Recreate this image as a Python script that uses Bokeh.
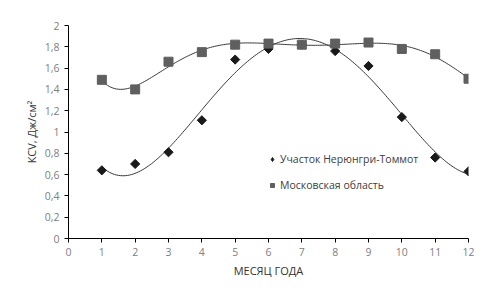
import numpy as np
from bokeh.plotting import figure
from bokeh.models import Legend, LegendItem, Range1d, FixedTicker
from bokeh.embed import file_html
from bokeh.resources import INLINE

months = [1, 2, 3, 4, 5, 6, 7, 8, 9, 10, 11, 12]
neryungri = [0.64, 0.70, 0.81, 1.11, 1.68, 1.78, 1.82, 1.76, 1.62, 1.14, 0.76, 0.63]
moscow = [1.49, 1.40, 1.66, 1.75, 1.82, 1.83, 1.82, 1.83, 1.84, 1.78, 1.73, 1.50]
name1 = "Участок Нерюнгри-Томмот"
name2 = "Московская область"
y_ticks = [0, 0.2, 0.4, 0.6, 0.8, 1.0, 1.2, 1.4, 1.6, 1.8, 2.0]
x_ticks = list(range(0, 13))

p = figure(width=474, height=280, output_backend="svg", toolbar_location=None,
           x_range=Range1d(0, 12), y_range=Range1d(0, 2),
           min_border_left=68, min_border_right=6, min_border_top=25, min_border_bottom=38)
p.outline_line_color = None
p.xgrid.visible = False
p.ygrid.visible = False

# polynomial trend lines
xs = np.linspace(1, 12, 200)
for series, deg in ((neryungri, 4), (moscow, 6)):
    c = np.polyfit(months, series, deg)
    p.line(xs, np.polyval(c, xs), line_color="#3a3a3a", line_width=1)

r1 = p.scatter(months, neryungri, marker="square", angle=np.pi / 4, size=6.5,
               fill_color="#1a1a1a", line_color="#1a1a1a")
r2 = p.scatter(months, moscow, marker="square", size=9, fill_color="#5f5f5f", line_color="#5f5f5f")
# hidden proxy so the legend shows a diamond glyph
r1_leg = p.scatter(months, neryungri, marker="diamond", size=9, fill_color="#1a1a1a",
                   line_color="#1a1a1a", visible=False)

for ax in (p.xaxis[0], p.yaxis[0]):
    ax.axis_line_color = "black"
    ax.major_tick_line_color = "black"
    ax.major_tick_out = 4
    ax.major_tick_in = 0
    ax.minor_tick_line_color = None
    ax.major_label_text_color = "#808080"
    ax.major_label_text_font = "Open Sans"
    ax.major_label_text_font_size = "10.5px"
    ax.axis_label_text_font = "Open Sans"
    ax.axis_label_text_font_size = "11px"
    ax.axis_label_text_font_style = "normal"
    ax.axis_label_text_color = "#333333"

p.xaxis.ticker = FixedTicker(ticks=x_ticks)
p.yaxis.ticker = FixedTicker(ticks=y_ticks)
p.yaxis.major_label_overrides = {t: (("%g" % t).replace(".", ",")) for t in y_ticks}
p.xaxis.axis_label = "МЕСЯЦ ГОДА"
p.yaxis.axis_label = "КСV, Дж/см²"
p.xaxis.axis_label_standoff = 4
p.yaxis.axis_label_standoff = 3

legend = Legend(items=[LegendItem(label=name1, renderers=[r1_leg]), LegendItem(label=name2, renderers=[r2])],
                location=(199, 44), orientation="vertical", glyph_width=10, glyph_height=18,
                label_height=18, spacing=8, padding=0, margin=0, label_standoff=3,
                label_text_font="Open Sans", label_text_font_size="10.5px", label_text_color="#404040",
                border_line_color=None, background_fill_alpha=0,
                inactive_fill_alpha=0)
p.add_layout(legend, "center")

open("out.html", "w").write(file_html(p, INLINE))
